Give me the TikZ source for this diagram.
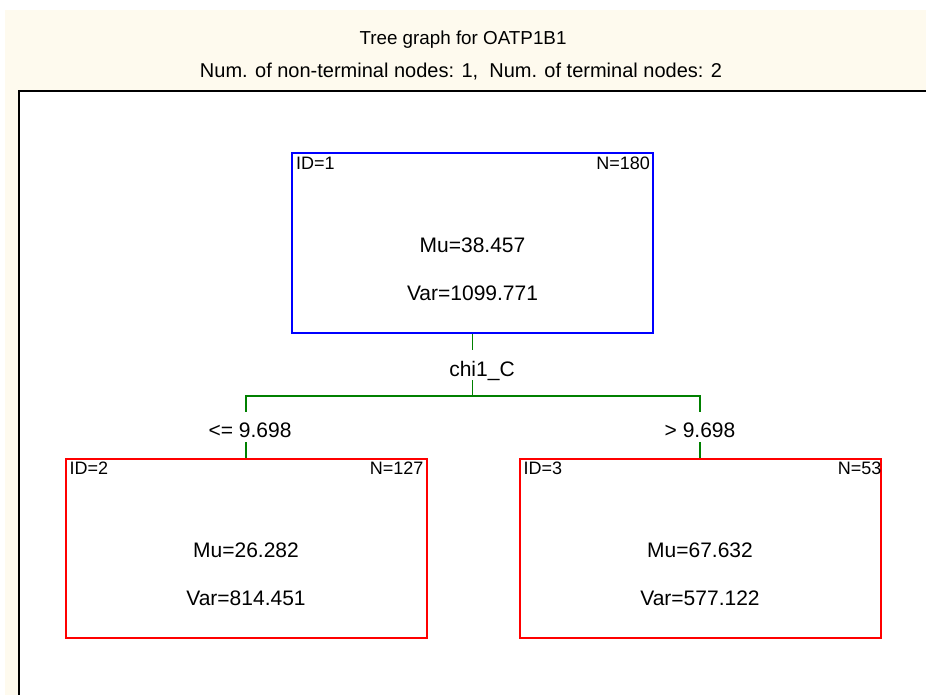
\documentclass[tikz,border=0pt]{standalone}
\usepackage{fontspec}
\setmainfont{Liberation Sans}
\usetikzlibrary{calc}
\definecolor{panelbg}{RGB}{254,250,238}
\definecolor{splitgreen}{RGB}{0,128,0}
\newcommand{\bigtxt}{\fontsize{21}{25}\selectfont}
\newcommand{\smalltxt}{\fontsize{18}{21}\selectfont}
\newcommand{\headtxt}{\fontsize{18.8}{22}\selectfont}
\newcommand{\subtxt}{\fontsize{20}{24}\selectfont}

\begin{document}
\begin{tikzpicture}[x=1pt,y=-1pt,
  box/.style={draw,line width=2pt,minimum width=361pt,minimum height=179pt,inner sep=0pt},
  corner/.style={font=\smalltxt,inner sep=0pt},
  stat/.style={font=\bigtxt,anchor=base,inner sep=0pt},
  cut/.style={font=\bigtxt,anchor=base,inner sep=0pt},
  link/.style={splitgreen,line width=1.6pt}]
\useasboundingbox (0,0) rectangle (926,695);
\fill[panelbg] (5,10) rectangle (926,695);
\fill[white] (19,91) rectangle (926,695);
\draw[line width=2pt] (19,695) -- (19,91) -- (926,91);
\node[font=\headtxt,anchor=base,inner sep=0pt] (title) at (463,45) {Tree graph for OATP1B1};
\node[font=\subtxt,anchor=base,inner sep=0pt] (subtitle) at (461,78) {Num. of non-terminal nodes: 1,\ \ Num. of terminal nodes: 2};
\node[box,draw=blue] (root) at (472.5,243) {};
\node[box,draw=red] (lleaf) at (246,548) {};
\node[box,draw=red] (rleaf) at (700,548) {};
\node[corner,anchor=base west] (rootid) at ($(root.north west)+(5,17)$) {ID=1};
\node[corner,anchor=base east] (rootn) at ($(root.north east)+(-4,17)$) {N=180};
\node[stat] (rootmu) at ($(root.north)+(0,100)$) {Mu=38.457};
\node[stat] (rootvar) at ($(root.north)+(0,148)$) {Var=1099.771};
\node[corner,anchor=base west] (lleafid) at ($(lleaf.north west)+(5,17)$) {ID=2};
\node[corner,anchor=base east] (lleafn) at ($(lleaf.north east)+(-4,17)$) {N=127};
\node[stat] (lleafmu) at ($(lleaf.north)+(0,100)$) {Mu=26.282};
\node[stat] (lleafvar) at ($(lleaf.north)+(0,148)$) {Var=814.451};
\node[corner,anchor=base west] (rleafid) at ($(rleaf.north west)+(5,17)$) {ID=3};
\node[corner,anchor=base east] (rleafn) at ($(rleaf.north east)+(0,17)$) {N=53};
\node[stat] (rleafmu) at ($(rleaf.north)+(0,100)$) {Mu=67.632};
\node[stat] (rleafvar) at ($(rleaf.north)+(0,148)$) {Var=577.122};
\node[cut,text height=26pt,text depth=4pt] (split) at (482,376) {chi1\_C};
\coordinate (bus) at (472.5,396);
\node[cut,text height=25pt,text depth=5pt] (lecut) at (250,437) {<= 9.698};
\node[cut,text height=25pt,text depth=5pt] (gtcut) at (700,437) {> 9.698};
\draw[link] (root.south) -- (root.south |- split.north);
\draw[link] (bus |- split.south) -- (bus);
\draw[link] (bus) -| (lleaf.north |- lecut.north);
\draw[link] (bus) -| (gtcut.north);
\draw[link] (lleaf.north |- lecut.south) -- (lleaf.north);
\draw[link] (gtcut.south) -- (rleaf.north);
\end{tikzpicture}
\end{document}
